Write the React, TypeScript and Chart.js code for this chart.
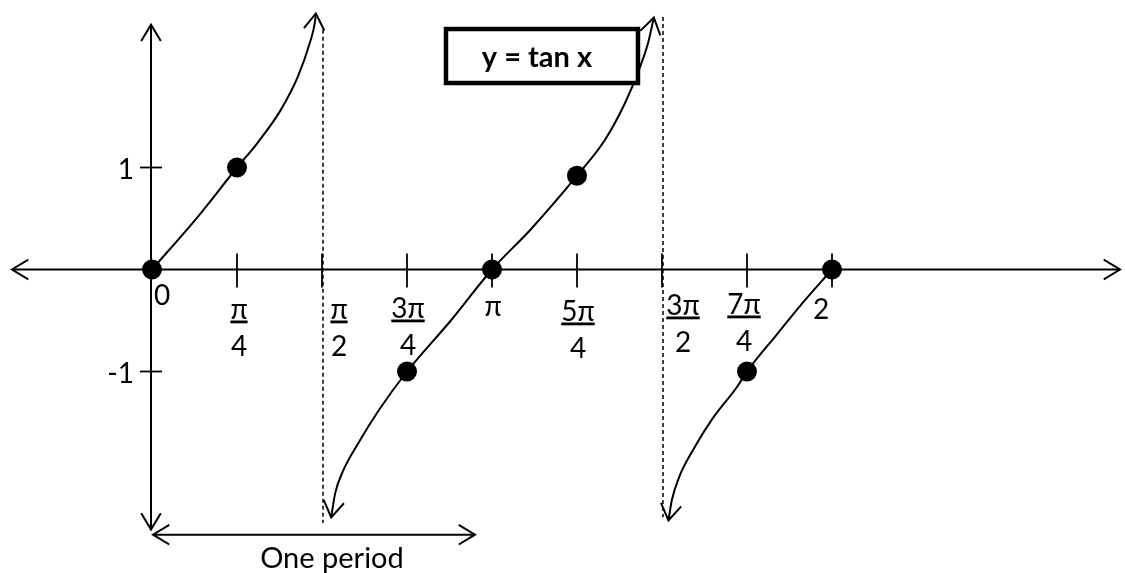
import { useEffect, useRef } from 'react';
import { Chart, registerables } from 'chart.js';

Chart.register(...registerables);

// ---- data (x in units of π) ----
const xTickValues = [0, 0.25, 0.5, 0.75, 1, 1.25, 1.5, 1.75, 2];
const xTickNumerators = ['0', 'π', 'π', '3π', 'π', '5π', '3π', '7π', '2'];
const xTickDenominators = ['', '4', '2', '4', '', '4', '2', '4', ''];
const yTickValues = [1, -1];
const yTickLabels = ['1', '-1'];

const branch1X = [0, 0.139, 0.25, 0.31, 0.378, 0.429, 0.464, 0.479, 0.482];
const branch1Y = [0, 0.534, 1, 1.24, 1.56, 1.89, 2.22, 2.42, 2.51];

const branch2X = [0.527, 0.539, 0.5625, 0.607, 0.667, 0.75, 0.879, 1.0, 1.113, 1.25, 1.332, 1.391, 1.429, 1.459, 1.476];
const branch2Y = [-2.43, -2.19, -1.97, -1.7, -1.38, -1, -0.5, 0, 0.39, 0.92, 1.27, 1.63, 1.93, 2.22, 2.47];

const branch3X = [1.519, 1.529, 1.551, 1.593, 1.647, 1.721, 1.75, 1.837, 1.913, 2.0];
const branch3Y = [-2.46, -2.26, -2.03, -1.76, -1.47, -1.15, -1, -0.64, -0.33, 0];

const dotX = [0, 0.25, 0.75, 1, 1.25, 1.75, 2];
const dotY = [0, 1, -1, 0, 0.92, -1, 0];

const asymptoteX = [0.5, 1.5];
const asymptoteTop = [2.35, 2.475];
const asymptoteBottom = [-2.485, -2.43];

const periodStart = 0;
const periodEnd = 0.95;
const periodLevel = -2.6;
const periodLabel = 'One period';
const titleText = 'y = tan x';

const FONT = "Lato, 'Open Sans', 'DejaVu Sans', sans-serif";

const toPts = (xs: number[], ys: number[]) => xs.map((v, i) => ({ x: v, y: ys[i] }));

function arrowHead(ctx: CanvasRenderingContext2D, tx: number, ty: number, fx: number, fy: number, len = 19, half = Math.PI / 5.8) {
  const ang = Math.atan2(ty - fy, tx - fx);
  ctx.beginPath();
  ctx.moveTo(tx - len * Math.cos(ang - half), ty - len * Math.sin(ang - half));
  ctx.lineTo(tx, ty);
  ctx.lineTo(tx - len * Math.cos(ang + half), ty - len * Math.sin(ang + half));
  ctx.stroke();
}

const labelDx = [10, 2, 17, 1, 1, 1, 21, -3, -11];
const labelDy = [-14, 0, 0, -1, -3, 2, -4, -5, 0];

const diagram = {
  id: 'diagram',
  beforeDatasetsDraw(chart: any) {
    const { ctx, scales } = chart;
    const X = (v: number) => scales.x.getPixelForValue(v);
    const Y = (v: number) => scales.y.getPixelForValue(v);
    const area = chart.chartArea;
    ctx.save();
    ctx.strokeStyle = '#000';
    ctx.fillStyle = '#000';
    ctx.lineWidth = 2;
    ctx.lineCap = 'butt';
    const y0 = Y(0);
    const x0 = X(0) - 1;
    // x axis
    const xl = area.left + 12;
    const xr = area.right - 5;
    ctx.beginPath();
    ctx.moveTo(xl, y0);
    ctx.lineTo(xr, y0);
    ctx.stroke();
    arrowHead(ctx, xl, y0, xl + 10, y0);
    arrowHead(ctx, xr, y0, xr - 10, y0);
    // y axis
    const yt = Y(2.4);
    const yb = Y(-2.55);
    ctx.beginPath();
    ctx.moveTo(x0, yt);
    ctx.lineTo(x0, yb);
    ctx.stroke();
    arrowHead(ctx, x0, yt, x0, yt + 10);
    arrowHead(ctx, x0, yb, x0, yb - 10);
    // x ticks
    ctx.lineWidth = 1.8;
    xTickValues.forEach((v, i) => {
      if (i === 0) return;
      const px = X(v);
      ctx.beginPath();
      ctx.moveTo(px, y0 - 16);
      ctx.lineTo(px, y0 + 18);
      ctx.stroke();
    });
    // y ticks
    yTickValues.forEach((v) => {
      const py = Y(v);
      ctx.beginPath();
      ctx.moveTo(x0 - 11, py);
      ctx.lineTo(x0 + 11, py);
      ctx.stroke();
    });
    // asymptotes
    ctx.lineWidth = 1.5;
    ctx.setLineDash([4, 3]);
    asymptoteX.forEach((v, i) => {
      const px = X(v) + 1;
      ctx.beginPath();
      ctx.moveTo(px, Y(asymptoteTop[i]));
      ctx.lineTo(px, Y(asymptoteBottom[i]));
      ctx.stroke();
    });
    ctx.setLineDash([]);
    ctx.restore();
  },
  afterDatasetsDraw(chart: any) {
    const { ctx, scales } = chart;
    const X = (v: number) => scales.x.getPixelForValue(v);
    const Y = (v: number) => scales.y.getPixelForValue(v);
    ctx.save();
    ctx.strokeStyle = '#000';
    ctx.fillStyle = '#000';
    ctx.lineWidth = 2;
    // curve arrowheads
    const ends: [number, 'start' | 'end'][] = [[0, 'end'], [1, 'start'], [1, 'end'], [2, 'start']];
    ends.forEach(([di, which]) => {
      const pts = chart.getDatasetMeta(di).data;
      const n = pts.length;
      const a = which === 'end' ? pts[n - 1] : pts[0];
      const b = which === 'end' ? pts[n - 2] : pts[1];
      arrowHead(ctx, a.x, a.y, b.x, b.y, 19, Math.PI / 5.5);
    });
    // x tick labels
    const y0 = Y(0);
    ctx.font = `28px ${FONT}`;
    ctx.textAlign = 'center';
    ctx.textBaseline = 'middle';
    xTickValues.forEach((v, i) => {
      const cx = X(v) + labelDx[i];
      const dy = labelDy[i];
      const num = xTickNumerators[i];
      const den = xTickDenominators[i];
      if (den) {
        ctx.fillText(num, cx, y0 + 40 + dy);
        const w = ctx.measureText(num).width;
        ctx.fillRect(cx - w / 2, y0 + 51 + dy, w, 2.8);
        ctx.fillText(den, cx, y0 + 77 + dy);
      } else {
        ctx.fillText(num, cx, y0 + 40 + dy);
      }
    });
    // y tick labels
    ctx.textAlign = 'right';
    yTickValues.forEach((v, i) => {
      ctx.fillText(yTickLabels[i], X(0) - 18, Y(v) + 2);
    });
    // one period arrow
    const py = Y(periodLevel);
    const pa = X(periodStart) + 1;
    const pb = X(periodEnd);
    ctx.beginPath();
    ctx.moveTo(pa, py);
    ctx.lineTo(pb, py);
    ctx.stroke();
    arrowHead(ctx, pa, py, pa + 10, py);
    arrowHead(ctx, pb, py, pb - 10, py);
    ctx.textAlign = 'center';
    ctx.font = `29px ${FONT}`;
    ctx.fillText(periodLabel, (pa + pb) / 2 + 18, py + 24);
    // title box
    const bx = X(1.147);
    const by = Y(2.093);
    const bw = 192;
    const bh = 54;
    ctx.fillStyle = '#fff';
    ctx.fillRect(bx - bw / 2, by - bh / 2, bw, bh);
    ctx.lineWidth = 4.5;
    ctx.strokeRect(bx - bw / 2, by - bh / 2, bw, bh);
    ctx.fillStyle = '#000';
    ctx.font = `bold 29px ${FONT}`;
    ctx.fillText(titleText, bx - 5, by + 2);
    ctx.restore();
  },
};

export default function App() {
  const ref = useRef<HTMLCanvasElement | null>(null);
  useEffect(() => {
    document.body.style.margin = '0';
    document.body.style.overflow = 'hidden';
    const canvas = ref.current;
    if (!canvas) return;
    const curveStyle = {
      type: 'line' as const,
      showLine: true,
      borderColor: '#000',
      borderWidth: 2,
      pointRadius: 0,
      pointHoverRadius: 0,
      cubicInterpolationMode: 'monotone' as const,
      fill: false,
      clip: false as any,
    };
    const chart = new Chart(canvas, {
      type: 'scatter',
      data: {
        datasets: [
          { ...curveStyle, label: 'branch1', data: toPts(branch1X, branch1Y) },
          { ...curveStyle, label: 'branch2', data: toPts(branch2X, branch2Y) },
          { ...curveStyle, label: 'branch3', data: toPts(branch3X, branch3Y) },
          {
            type: 'scatter',
            label: 'points',
            data: toPts(dotX, dotY),
            pointRadius: 10,
            pointHoverRadius: 10,
            backgroundColor: '#000',
            borderColor: '#000',
            borderWidth: 0,
            clip: false as any,
          },
        ] as any,
      },
      options: {
        responsive: false,
        animation: false,
        events: [],
        layout: { padding: 0, autoPadding: false },
        plugins: { legend: { display: false }, tooltip: { enabled: false }, title: { display: false } },
        scales: {
          x: { type: 'linear', display: false, min: -152 / 340, max: (1125 - 152) / 340 },
          y: { type: 'linear', display: false, min: (269.5 - 573) / 102, max: 269.5 / 102 },
        },
      },
      plugins: [diagram],
    });
    return () => chart.destroy();
  }, []);
  return (
    <div style={{ width: 1125, height: 573, background: '#fff' }}>
      <canvas ref={ref} width={1125} height={573} style={{ display: 'block' }} />
    </div>
  );
}
